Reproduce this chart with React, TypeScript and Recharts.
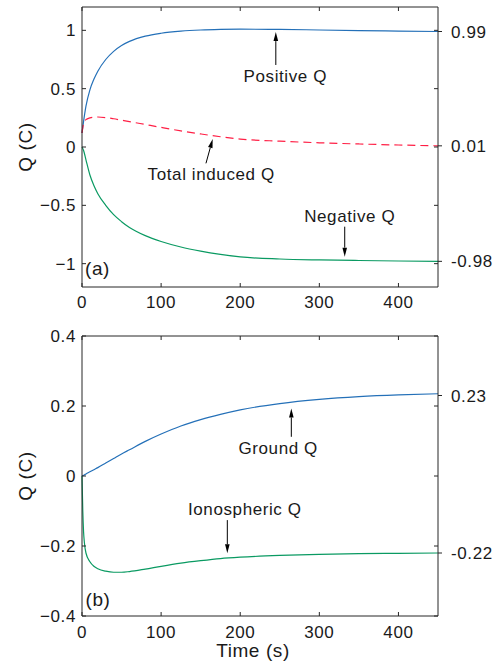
import React from 'react';
import { LineChart, Line, XAxis, YAxis, ReferenceLine, ReferenceDot } from 'recharts';

// ---------- data (panel a) ----------
const timeA = [0, 2, 5, 10, 15, 20, 30, 40, 50, 60, 80, 100, 125, 150, 175, 200, 250, 300, 350, 400, 450];
const positiveQ = [0.12, 0.22, 0.35, 0.49, 0.58, 0.65, 0.75, 0.82, 0.87, 0.905, 0.95, 0.975, 0.993, 1.003, 1.008, 1.01, 1.008, 1.003, 0.998, 0.994, 0.99];
const totalQ = [0.12, 0.2, 0.235, 0.25, 0.256, 0.257, 0.252, 0.242, 0.23, 0.218, 0.193, 0.168, 0.138, 0.112, 0.088, 0.068, 0.05, 0.036, 0.026, 0.017, 0.01];
const negativeQ = [0, -0.03, -0.11, -0.24, -0.33, -0.4, -0.5, -0.58, -0.64, -0.69, -0.76, -0.81, -0.857, -0.892, -0.92, -0.942, -0.96, -0.968, -0.973, -0.977, -0.98];

// ---------- data (panel b) ----------
const timeB = [0, 1, 2, 3, 5, 10, 15, 20, 30, 40, 50, 60, 80, 100, 125, 150, 175, 200, 250, 300, 350, 400, 450];
const groundQ = [0, 0.001, 0.002, 0.003, 0.006, 0.012, 0.018, 0.024, 0.037, 0.05, 0.063, 0.075, 0.099, 0.12, 0.143, 0.161, 0.176, 0.189, 0.207, 0.219, 0.227, 0.232, 0.235];
const ionoQ = [0, -0.1, -0.16, -0.19, -0.22, -0.245, -0.258, -0.265, -0.272, -0.275, -0.275, -0.273, -0.266, -0.258, -0.249, -0.242, -0.236, -0.232, -0.227, -0.224, -0.222, -0.221, -0.22];

// ---------- ticks ----------
const xTicks = [0, 100, 200, 300, 400];
const yTicksA = [-1, -0.5, 0, 0.5, 1];
const rightLabelsA = [0.99, 0.01, -0.98];
const rightTicksA = [1, 0.99, 0.5, 0.01, 0, -0.5, -0.98, -1];
const yTicksB = [-0.4, -0.2, 0, 0.2, 0.4];
const rightLabelsB = [0.23, -0.22];
const rightTicksB = [0.4, 0.23, 0.2, 0, -0.2, -0.22, -0.4];

const dataA = timeA.map((t, i) => ({ t, pos: positiveQ[i], tot: totalQ[i], neg: negativeQ[i] }));
const dataB = timeB.map((t, i) => ({ t, ground: groundQ[i], iono: ionoQ[i] }));

const INK = '#1a1a1a';
const FRAME = '#262626';
const FS = 17;
const TL = 4;
const BLUE = '#2470b8';
const GREEN = '#0a9a62';
const RED = '#ff1f45';

const uminus = (v: number) => String(v).replace('-', '\u2212');

const LeftTick = (p: any) => {
  const { x, y, payload } = p;
  return (
    <g>
      <line x1={x} y1={y} x2={x + TL} y2={y} stroke={FRAME} />
      <text x={x - 6} y={y} dy="0.355em" textAnchor="end" fontSize={FS} fill={INK}>
        {uminus(payload.value)}
      </text>
    </g>
  );
};

const makeBottomTick = (gap: number) => (p: any) => {
  const { x, y, payload } = p;
  return (
    <g>
      <line x1={x} y1={y} x2={x} y2={y - TL} stroke={FRAME} />
      <text x={x} y={y + gap} dy="0.71em" textAnchor="middle" fontSize={FS} fill={INK}>
        {String(payload.value)}
      </text>
    </g>
  );
};
const BottomTickA = makeBottomTick(9);
const BottomTickB = makeBottomTick(10);

const TopTick = (p: any) => {
  const { x, y } = p;
  return <line x1={x} y1={y} x2={x} y2={y + TL} stroke={FRAME} />;
};

const makeRightTick = (labels: number[]) => (p: any) => {
  const { x, y, payload } = p;
  if (labels.includes(payload.value)) {
    return (
      <g>
        <line x1={x} y1={y} x2={x + TL} y2={y} stroke={FRAME} />
        <text x={x + 13} y={y} dy="0.355em" textAnchor="start" fontSize={FS} fill={INK}>
          {String(payload.value)}
        </text>
      </g>
    );
  }
  return <line x1={x - TL} y1={y} x2={x} y2={y} stroke={FRAME} />;
};

const RightTickA = makeRightTick(rightLabelsA);
const RightTickB = makeRightTick(rightLabelsB);

const YLab = (p: any) => {
  const vb = p.viewBox;
  const x = vb.x + 32;
  const y = vb.y + vb.height / 2;
  return (
    <text x={x} y={y} transform={`rotate(-90 ${x} ${y})`} textAnchor="middle" fontSize={19} fill={INK}>
      Q (C)
    </text>
  );
};

const XLab = (p: any) => {
  const vb = p.viewBox;
  const x = vb.x + vb.width / 2 - 7;
  const y = vb.y + 41;
  return (
    <text x={x} y={y} textAnchor="middle" fontSize={19} fill={INK}>
      Time (s)
    </text>
  );
};

const Arrow = (p: any) => {
  const { x1, y1, x2, y2 } = p;
  const dx = x2 - x1;
  const dy = y2 - y1;
  const len = Math.hypot(dx, dy) || 1;
  const ux = dx / len;
  const uy = dy / len;
  const L = 9;
  const W = 2.3;
  const bx = x2 - ux * L;
  const by = y2 - uy * L;
  const pts = `${x2},${y2} ${bx - uy * W},${by + ux * W} ${bx + uy * W},${by - ux * W}`;
  return (
    <g>
      <line x1={x1} y1={y1} x2={bx} y2={by} stroke="#000" strokeWidth={1} />
      <polygon points={pts} fill="#000" />
    </g>
  );
};

// annotation placements (data coordinates)
const annotA = [
  { text: 'Positive Q', x: 257, y: 0.609, from: [245, 0.703], to: [245, 0.985] },
  { text: 'Total induced Q', x: 163.3, y: -0.231, from: [156.7, -0.14], to: [165.2, 0.069] },
  { text: 'Negative Q', x: 338.4, y: -0.591, from: [332.1, -0.683], to: [332.1, -0.94] },
];
const annotB = [
  { text: 'Ground Q', x: 248, y: 0.08, from: [264.6, 0.112], to: [264.6, 0.193] },
  { text: 'Ionospheric Q', x: 205.8, y: -0.094, from: [183.7, -0.126], to: [183.7, -0.221] },
];

const renderAnnots = (list: any[]) =>
  list.flatMap((a, i) => [
    <ReferenceLine
      key={`l${i}`}
      xAxisId="b"
      yAxisId="l"
      segment={[{ x: a.from[0], y: a.from[1] }, { x: a.to[0], y: a.to[1] }]}
      shape={Arrow}
      ifOverflow="visible"
    />,
    <ReferenceDot
      key={`d${i}`}
      xAxisId="b"
      yAxisId="l"
      x={a.x}
      y={a.y}
      r={0}
      fill="none"
      stroke="none"
      ifOverflow="visible"
      label={{ value: a.text, position: 'center', fontSize: FS, fill: INK }}
    />,
  ]);

const commonX = {
  type: 'number' as const,
  dataKey: 't',
  domain: [0, 450],
  ticks: xTicks,
  interval: 0 as const,
  tickSize: 0,
  tickMargin: 0,
  tickLine: false,
  axisLine: { stroke: FRAME, strokeWidth: 1 },
};

const commonYR = {
  orientation: 'right' as const,
  type: 'number' as const,
  interval: 0 as const,
  tickSize: 0,
  tickMargin: 0,
  tickLine: false,
  axisLine: { stroke: FRAME, strokeWidth: 1 },
  width: 60,
  allowDataOverflow: true,
};

export default function App() {
  return (
    <div
      style={{
        position: 'absolute',
        left: 0,
        top: 0,
        width: 498,
        height: 671,
        background: '#fff',
        fontFamily: "'Liberation Sans', Arial, Helvetica, sans-serif",
        letterSpacing: '0.6px',
      }}
    >
      <LineChart width={498} height={320} data={dataA} margin={{ top: 0, right: 0, bottom: 0, left: 0 }}>
        <XAxis xAxisId="b" {...commonX} tick={BottomTickA} height={33} />
        <XAxis xAxisId="t" orientation="top" {...commonX} tick={TopTick} height={7} allowDataOverflow />
        <YAxis
          yAxisId="l"
          type="number"
          domain={[-1.2, 1.2]}
          ticks={yTicksA}
          interval={0}
          tickSize={0}
          tickMargin={0}
          tickLine={false}
          tick={LeftTick}
          axisLine={{ stroke: FRAME, strokeWidth: 1 }}
          width={82}
          label={YLab}
        />
        <YAxis yAxisId="r" {...commonYR} domain={[-1.2, 1.2]} ticks={rightTicksA} tick={RightTickA} />
        <Line xAxisId="t" yAxisId="r" type="monotone" dataKey="tot" stroke="none" strokeWidth={0} dot={false} activeDot={false} legendType="none" isAnimationActive={false} />
        <Line xAxisId="b" yAxisId="l" type="monotone" dataKey="pos" stroke={BLUE} strokeWidth={1.2} dot={false} isAnimationActive={false} />
        <Line xAxisId="b" yAxisId="l" type="monotone" dataKey="neg" stroke={GREEN} strokeWidth={1.2} dot={false} isAnimationActive={false} />
        <Line xAxisId="b" yAxisId="l" type="monotone" dataKey="tot" stroke={RED} strokeWidth={1.2} strokeDasharray="8 5" dot={false} isAnimationActive={false} />
        {renderAnnots(annotA)}
        <ReferenceDot
          xAxisId="b"
          yAxisId="l"
          x={19.6}
          y={-1.037}
          r={0}
          fill="none"
          stroke="none"
          ifOverflow="visible"
          label={{ value: '(a)', position: 'center', fontSize: 19, fill: INK }}
        />
      </LineChart>
      <LineChart width={498} height={351} data={dataB} margin={{ top: 0, right: 0, bottom: 0, left: 0 }}>
        <XAxis xAxisId="b" {...commonX} tick={BottomTickB} height={55} label={XLab} />
        <XAxis xAxisId="t" orientation="top" {...commonX} tick={TopTick} height={16} allowDataOverflow />
        <YAxis
          yAxisId="l"
          type="number"
          domain={[-0.4, 0.4]}
          ticks={yTicksB}
          interval={0}
          tickSize={0}
          tickMargin={0}
          tickLine={false}
          tick={LeftTick}
          axisLine={{ stroke: FRAME, strokeWidth: 1 }}
          width={82}
          label={YLab}
        />
        <YAxis yAxisId="r" {...commonYR} domain={[-0.4, 0.4]} ticks={rightTicksB} tick={RightTickB} />
        <Line xAxisId="t" yAxisId="r" type="monotone" dataKey="ground" stroke="none" strokeWidth={0} dot={false} activeDot={false} legendType="none" isAnimationActive={false} />
        <Line xAxisId="b" yAxisId="l" type="monotone" dataKey="ground" stroke={BLUE} strokeWidth={1.2} dot={false} isAnimationActive={false} />
        <Line xAxisId="b" yAxisId="l" type="monotone" dataKey="iono" stroke={GREEN} strokeWidth={1.2} dot={false} isAnimationActive={false} />
        {renderAnnots(annotB)}
        <ReferenceDot
          xAxisId="b"
          yAxisId="l"
          x={20.2}
          y={-0.351}
          r={0}
          fill="none"
          stroke="none"
          ifOverflow="visible"
          label={{ value: '(b)', position: 'center', fontSize: 19, fill: INK }}
        />
      </LineChart>
    </div>
  );
}
